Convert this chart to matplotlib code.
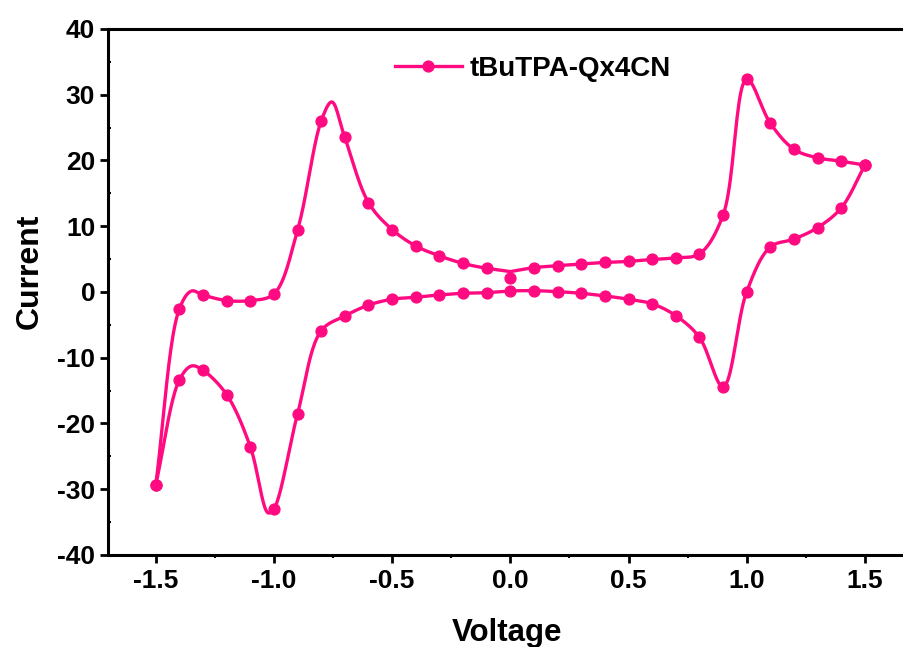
import numpy as np
import matplotlib
matplotlib.use("Agg")
import matplotlib.pyplot as plt
from matplotlib.lines import Line2D
from matplotlib.ticker import MultipleLocator, FormatStrFormatter

plt.rcParams['font.family'] = ['Liberation Sans', 'DejaVu Sans']
plt.rcParams['font.weight'] = 'bold'
plt.rcParams['axes.unicode_minus'] = False

# CV loop of tBuTPA-Qx4CN, traced in scan order (V vs current)
# branch 1: 0 V -> -1.5 V (upper left)
up_left_v = [0.0, -0.1, -0.2, -0.3, -0.4, -0.5, -0.6, -0.7, -0.755, -0.8, -0.9,
             -1.0, -1.1, -1.2, -1.3, -1.348, -1.4, -1.5]
up_left_i = [3.1, 3.6, 4.35, 5.5, 7.0, 9.5, 13.6, 23.5, 28.9, 26.0, 9.4,
             -0.3, -1.3, -1.3, -0.45, 0.15, -2.6, -29.4]

# branch 2: -1.5 V -> 1.5 V (lower)
low_v = [-1.5, -1.4, -1.348, -1.3, -1.2, -1.1, -1.024, -1.0, -0.9, -0.8, -0.7,
         -0.6, -0.5, -0.4, -0.3, -0.2, -0.1, 0.0, 0.1, 0.2, 0.3, 0.4, 0.5,
         0.6, 0.7, 0.8, 0.9, 1.0, 1.1, 1.2, 1.3, 1.4, 1.5]
low_i = [-29.4, -13.4, -11.25, -11.9, -15.6, -23.5, -33.6, -33.0, -18.55, -5.9, -3.65,
         -2.0, -1.1, -0.8, -0.45, -0.2, -0.1, 0.15, 0.2, 0.05, -0.2, -0.6, -1.1,
         -1.8, -3.6, -6.9, -14.4, 0.05, 6.85, 8.05, 9.8, 12.8, 19.3]

# branch 3: 1.5 V -> 0 V (upper right)
up_right_v = [1.5, 1.4, 1.3, 1.2, 1.1, 1.0, 0.9, 0.8, 0.7, 0.6, 0.5, 0.4,
              0.3, 0.2, 0.1, 0.0]
up_right_i = [19.3, 19.9, 20.4, 21.7, 25.65, 32.35, 11.7, 5.8, 5.2, 4.95, 4.65, 4.5,
              4.25, 4.0, 3.7, 3.1]

# first recorded point of the scan
start_v = [0.0]
start_i = [2.2]

color = '#ff0a80'
x_scale, y_scale = 236.4, 6.575   # px per unit, used for spline spacing


def catmull_rom(xs, ys, n=24, alpha=0.5):
    """Centripetal Catmull-Rom curve through the given points."""
    p = np.column_stack([np.asarray(xs) * x_scale, np.asarray(ys) * y_scale])
    p = np.vstack([2 * p[0] - p[1], p, 2 * p[-1] - p[-2]])
    out = []
    for k in range(1, len(p) - 2):
        p0, p1, p2, p3 = p[k - 1], p[k], p[k + 1], p[k + 2]
        t0 = 0.0
        t1 = t0 + np.linalg.norm(p1 - p0) ** alpha
        t2 = t1 + np.linalg.norm(p2 - p1) ** alpha
        t3 = t2 + np.linalg.norm(p3 - p2) ** alpha
        t = np.linspace(t1, t2, n)[:, None]
        a1 = (t1 - t) / (t1 - t0) * p0 + (t - t0) / (t1 - t0) * p1
        a2 = (t2 - t) / (t2 - t1) * p1 + (t - t1) / (t2 - t1) * p2
        a3 = (t3 - t) / (t3 - t2) * p2 + (t - t2) / (t3 - t2) * p3
        b1 = (t2 - t) / (t2 - t0) * a1 + (t - t0) / (t2 - t0) * a2
        b2 = (t3 - t) / (t3 - t1) * a2 + (t - t1) / (t3 - t1) * a3
        c = (t2 - t) / (t2 - t1) * b1 + (t - t1) / (t2 - t1) * b2
        out.append(c if k == 1 else c[1:])
    c = np.vstack(out)
    return c[:, 0] / x_scale, c[:, 1] / y_scale


fig = plt.figure(figsize=(9.04, 6.47), dpi=100)
ax = fig.add_axes([0.1199, 0.1422, 0.8892, 0.8130])

branches = [(up_left_v, up_left_i), (low_v, low_i), (up_right_v, up_right_i)]
for bv, bi in branches:
    sx, sy = catmull_rom(bv, bi)
    ax.plot(sx, sy, color=color, lw=2.4, solid_capstyle='round', zorder=3)

# symbols on the 0.1 V grid (loop-closing vertex at 0 V is not a symbol)
mv, mi = list(start_v), list(start_i)
for n, (bv, bi) in enumerate(branches):
    for j, (v, c) in enumerate(zip(bv, bi)):
        on_grid = abs(v * 10 - round(v * 10)) < 1e-6
        closing = (n == 0 and j == 0) or (n == 2 and j == len(bv) - 1)
        if on_grid and not closing:
            mv.append(v)
            mi.append(c)
ax.plot(mv, mi, 'o', color=color, ms=7.8, mec=color, zorder=4)

ax.set_xlim(-1.7, 1.7)
ax.set_ylim(-40, 40)
ax.xaxis.set_major_locator(MultipleLocator(0.5))
ax.xaxis.set_minor_locator(MultipleLocator(0.25))
ax.yaxis.set_major_locator(MultipleLocator(10))
ax.yaxis.set_minor_locator(MultipleLocator(5))
ax.xaxis.set_major_formatter(FormatStrFormatter('%.1f'))
ax.yaxis.set_major_formatter(FormatStrFormatter('%d'))

for s in ax.spines.values():
    s.set_linewidth(2.2)
ax.tick_params(which='major', direction='out', length=6, width=2,
               labelsize=19, pad=4)
ax.tick_params(axis='y', which='major', pad=3.5)
ax.tick_params(axis='x', which='minor', direction='out', length=2.5, width=1.5)
ax.tick_params(axis='y', which='minor', direction='in', length=2.5, width=1.5)

ax.set_xlabel('Voltage', fontsize=22.5, fontweight='bold')
ax.set_ylabel('Current', fontsize=23, fontweight='bold')
ax.xaxis.set_label_coords(0.496, -0.12)
ax.yaxis.set_label_coords(-0.079, 0.54)

handle = Line2D([], [], color=color, lw=2.4, marker='o', ms=7.8, mec=color)
fig.legend([handle], ['tBuTPA-Qx4CN'], loc='center left',
           bbox_to_anchor=(395 / 904, 1 - 69 / 647), frameon=False,
           fontsize=20, handlelength=2.4, handletextpad=0.29,
           borderpad=0, borderaxespad=0, numpoints=1)

fig.savefig('out.png', dpi=100)
